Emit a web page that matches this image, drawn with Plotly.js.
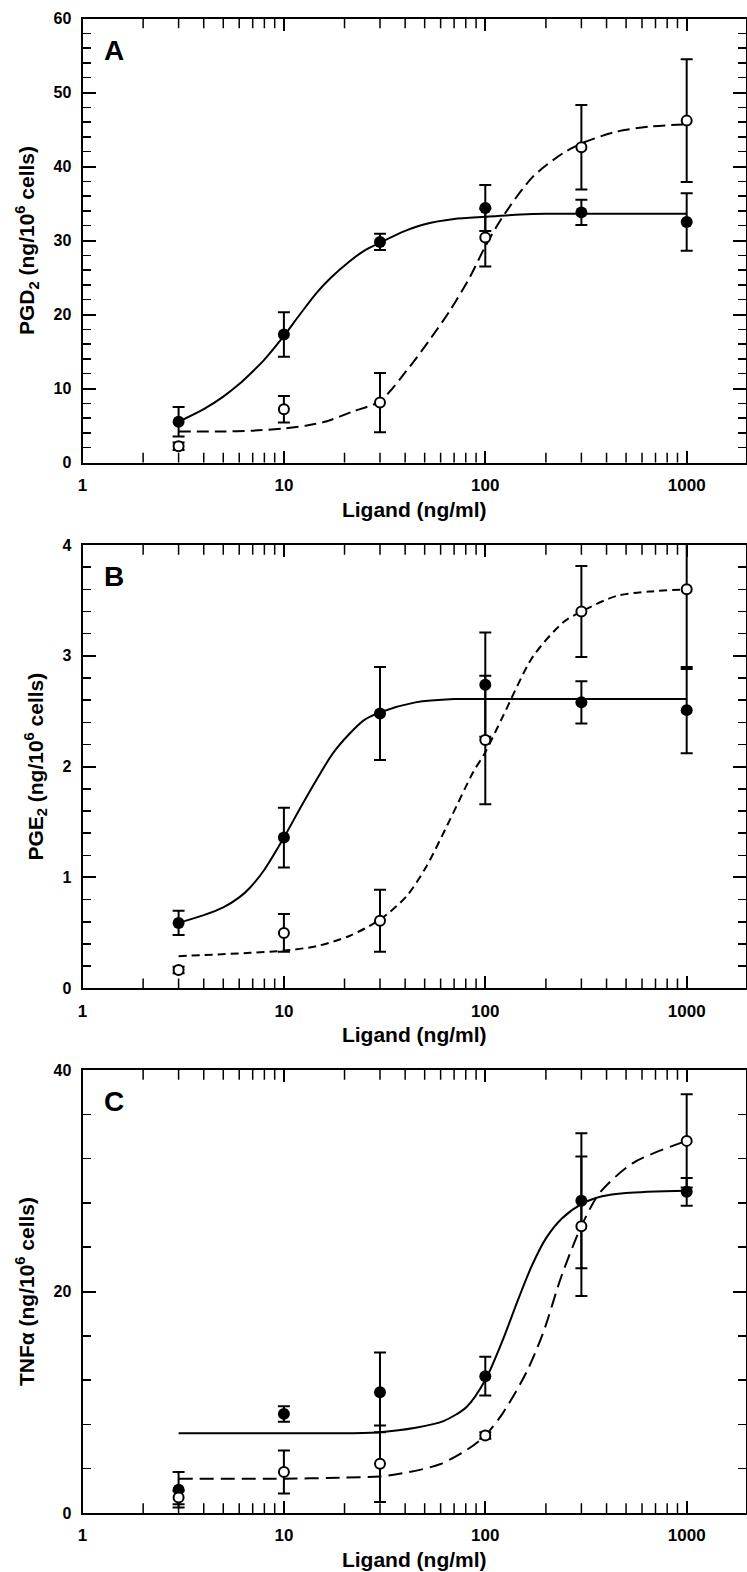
<!DOCTYPE html>
<html>
<head>
<meta charset="utf-8">
<script src="https://cdn.plot.ly/plotly-3.0.1.min.js"></script>
<style>
  html, body { margin: 0; padding: 0; background: #fff; }
  #chart { width: 747px; height: 1572px; }
</style>
</head>
<body>
<div id="chart"></div>
<script>
// ---------- data ----------
const doses = [3, 10, 30, 100, 300, 1000];

// Panel A: PGD2
const pgd2Filled    = [5.5, 17.3, 29.8, 34.4, 33.8, 32.5];
const pgd2FilledErr = [2.0, 3.0, 1.1, 3.1, 1.7, 3.9];
const pgd2Open      = [2.2, 7.2, 8.1, 30.4, 42.6, 46.2];
const pgd2OpenErr   = [0.5, 1.8, 4.0, 3.9, 5.7, 8.3];
const pgd2FitSolidX = [3, 4, 5, 6, 7, 8, 10, 12, 14.5, 17, 21, 25, 30, 40, 50, 70, 100, 150, 200, 300, 500, 1000];
const pgd2FitSolidY = [5.5, 7.2, 8.9, 10.6, 12.3, 13.9, 17.1, 20.0, 22.9, 24.9, 27.1, 28.6, 29.7, 31.3, 32.2, 32.9, 33.2, 33.5, 33.6, 33.6, 33.6, 33.6];
const pgd2FitDashX  = [3, 5, 7, 10, 13, 16, 22, 30, 42, 53, 67, 84, 100, 122, 172, 243, 305, 447, 656, 1000];
const pgd2FitDashY  = [4.2, 4.2, 4.3, 4.6, 5.0, 5.5, 6.9, 8.3, 12.9, 16.6, 20.6, 25.1, 29.2, 33.2, 38.6, 41.8, 43.2, 44.7, 45.4, 45.7];

// Panel B: PGE2
const pge2Filled    = [0.59, 1.36, 2.48, 2.74, 2.58, 2.51];
const pge2FilledErr = [0.11, 0.27, 0.42, 0.47, 0.19, 0.39];
const pge2Open      = [0.165, 0.50, 0.61, 2.24, 3.40, 3.60];
const pge2OpenErr   = [0.03, 0.17, 0.28, 0.58, 0.41, 0.72];
const pge2FitSolidX = [3, 4, 5, 6, 6.8, 8, 10, 12, 14.5, 17.5, 21, 25, 30, 45, 70, 100, 300, 1000];
const pge2FitSolidY = [0.59, 0.66, 0.73, 0.82, 0.91, 1.07, 1.36, 1.62, 1.88, 2.12, 2.29, 2.42, 2.49, 2.58, 2.61, 2.61, 2.61, 2.61];
const pge2FitDashX  = [3, 6.8, 10, 14.5, 21, 30, 40.6, 51, 66.7, 87, 100, 122, 172, 243, 300, 447, 656, 1000];
const pge2FitDashY  = [0.29, 0.32, 0.34, 0.38, 0.47, 0.62, 0.83, 1.10, 1.52, 1.95, 2.13, 2.45, 2.99, 3.30, 3.40, 3.54, 3.58, 3.60];

// Panel C: TNFalpha
const tnfFilled     = [2.1, 8.95, 10.9, 12.35, 28.2, 29.0];
const tnfFilledErr  = [1.6, 0.7, 3.6, 1.75, 6.1, 1.25];
const tnfOpen       = [1.4, 3.7, 4.45, 7.0, 25.9, 33.6];
const tnfOpenErr    = [0.6, 1.95, 3.45, 0.3, 6.3, 4.2];
const tnfFitSolidX  = [3, 10, 20, 30, 45, 62, 81, 100, 122, 145, 170, 200, 240, 300, 380, 500, 1000];
const tnfFitSolidY  = [7.2, 7.2, 7.2, 7.3, 7.7, 8.3, 9.6, 12.0, 15.6, 19.2, 22.3, 24.8, 26.6, 27.9, 28.6, 28.9, 29.1];
const tnfFitDashX   = [3, 10, 20, 30, 42, 59.5, 81, 100, 122, 160, 194, 239, 300, 370, 541, 1000];
const tnfFitDashY   = [3.1, 3.1, 3.2, 3.3, 3.7, 4.4, 5.7, 7.0, 9.0, 12.7, 16.3, 21.4, 25.9, 28.9, 31.6, 33.6];

// axis ticks (ligand concentration, ng/ml)
const xMajor = [1, 10, 100, 1000];
const xMajorText = ['1', '10', '100', '1000'];
const xMinor = [2,3,4,5,6,7,8,9,20,30,40,50,60,70,80,90,200,300,400,500,600,700,800,900];
const xMax = 1970;

// ---------- build ----------
// The x axis is a log10 concentration scale: values are placed at log10(conc).
const lg = a => a.map(v => Math.log10(v));
const W = 747, H = 1572;
const xDom = [82.5 / W, 746 / W];
const XRANGE = [0, Math.log10(xMax)];
const panels = [
  {top: 18.5, bottom: 462.5, range: [0, 60], dtick: 10, minor: 2, letter: 'A',
   ytitle: 'PGD<sub>2</sub> (ng/10<sup>6</sup> cells)',
   f: pgd2Filled, fe: pgd2FilledErr, o: pgd2Open, oe: pgd2OpenErr,
   sx: pgd2FitSolidX, sy: pgd2FitSolidY, dx: pgd2FitDashX, dy: pgd2FitDashY, dash: '12px,6px'},
  {top: 545, bottom: 988.3, range: [0, 4], dtick: 1, minor: 0.2, letter: 'B',
   ytitle: 'PGE<sub>2</sub> (ng/10<sup>6</sup> cells)',
   f: pge2Filled, fe: pge2FilledErr, o: pge2Open, oe: pge2OpenErr,
   sx: pge2FitSolidX, sy: pge2FitSolidY, dx: pge2FitDashX, dy: pge2FitDashY, dash: '8px,5px'},
  {top: 1070, bottom: 1513, range: [0, 40], dtick: 20, minor: 4, letter: 'C',
   ytitle: 'TNF\u03b1 (ng/10<sup>6</sup> cells)',
   f: tnfFilled, fe: tnfFilledErr, o: tnfOpen, oe: tnfOpenErr,
   sx: tnfFitSolidX, sy: tnfFitSolidY, dx: tnfFitDashX, dy: tnfFitDashY, dash: '14px,7px'}
];

const FONT = 'Liberation Sans, Arial, Helvetica, sans-serif';
const traces = [];
const layout = {
  width: W, height: H,
  margin: {l: 0, r: 0, t: 0, b: 0},
  paper_bgcolor: '#fff', plot_bgcolor: '#fff',
  showlegend: false,
  font: {family: FONT, color: '#000', weight: 'bold'},
  annotations: []
};

panels.forEach((p, i) => {
  const n = i === 0 ? '' : String(i + 1);
  const xa = 'x' + n, ya = 'y' + n;

  // minor log ticks on the bottom and top frame (markers clipped to the plot area -> inside half only)
  const mx = lg(xMinor).concat(lg(xMinor));
  const my = xMinor.map(() => p.range[0]).concat(xMinor.map(() => p.range[1]));
  traces.push({x: mx, y: my, xaxis: xa, yaxis: ya, mode: 'markers', cliponaxis: true,
    marker: {symbol: 'line-ns', size: 14, color: '#000', line: {width: 1.5, color: '#000'}},
    hoverinfo: 'skip'});

  traces.push({x: lg(p.sx), y: p.sy, xaxis: xa, yaxis: ya, mode: 'lines',
    line: {color: '#000', width: 2, shape: 'spline', smoothing: 0.8}, hoverinfo: 'skip'});
  traces.push({x: lg(p.dx), y: p.dy, xaxis: xa, yaxis: ya, mode: 'lines',
    line: {color: '#000', width: 2, dash: p.dash, shape: 'spline', smoothing: 0.8}, hoverinfo: 'skip'});
  traces.push({x: lg(doses), y: p.f, xaxis: xa, yaxis: ya, mode: 'markers',
    marker: {symbol: 'circle', size: 12, color: '#000', line: {width: 0}},
    error_y: {type: 'data', array: p.fe, visible: true, color: '#000', thickness: 2, width: 6}});
  traces.push({x: lg(doses), y: p.o, xaxis: xa, yaxis: ya, mode: 'markers',
    marker: {symbol: 'circle', size: 10, color: '#fff', line: {width: 2, color: '#000'}},
    error_y: {type: 'data', array: p.oe, visible: true, color: '#000', thickness: 2, width: 6}});

  layout['xaxis' + n] = {
    type: 'linear', range: XRANGE, domain: xDom, anchor: ya,
    showgrid: false, zeroline: false, showline: true, linewidth: 2, linecolor: '#000',
    mirror: 'ticks', ticks: 'inside', ticklen: 12, tickwidth: 2, tickcolor: '#000',
    tickmode: 'array', tickvals: lg(xMajor), ticktext: xMajorText,
    ticklabelstandoff: 6,
    tickfont: {family: FONT, size: 17, weight: 'bold', color: '#000'},
    title: {text: 'Ligand (ng/ml)', standoff: 8, font: {family: FONT, size: 21, weight: 'bold', color: '#000'}}
  };
  layout['yaxis' + n] = {
    range: p.range, domain: [1 - p.bottom / H, 1 - p.top / H], anchor: xa,
    showgrid: false, zeroline: false, showline: true, linewidth: 2, linecolor: '#000',
    mirror: 'ticks', ticks: 'inside', ticklen: 13, tickwidth: 2, tickcolor: '#000',
    dtick: p.dtick, tick0: 0, ticklabelstandoff: 6,
    tickfont: {family: FONT, size: 16, weight: 'bold', color: '#000'},
    minor: {dtick: p.minor, tick0: 0, ticks: 'inside', ticklen: 8, tickwidth: 1.5, tickcolor: '#000', showgrid: false},
    title: {text: p.ytitle, standoff: 13, font: {family: FONT, size: 21, weight: 'bold', color: '#000'}}
  };
  layout.annotations.push({
    text: p.letter, xref: xa + ' domain', yref: ya + ' domain',
    x: 0.029, y: 1 - 31.5 / (p.bottom - p.top), xanchor: 'left', yanchor: 'middle',
    showarrow: false, font: {family: FONT, size: 28, weight: 'bold', color: '#000'}
  });
});

Plotly.newPlot('chart', traces, layout, {staticPlot: true, displayModeBar: false});
</script>
</body>
</html>
